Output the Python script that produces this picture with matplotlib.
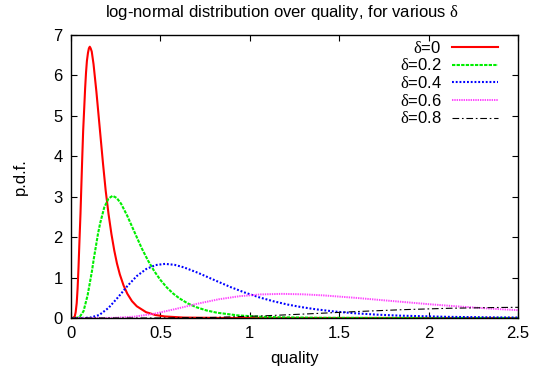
import matplotlib
matplotlib.use("Agg")
import matplotlib.pyplot as plt

plt.rcParams['font.family'] = ['Liberation Sans', 'DejaVu Sans']
plt.rcParams['mathtext.fontset'] = 'custom'
plt.rcParams['mathtext.rm'] = 'Liberation Serif'
plt.rcParams['mathtext.it'] = 'Liberation Serif:italic'

# ---- data ----
red_x = [0, 0.011, 0.021, 0.026, 0.032, 0.037, 0.042, 0.047, 0.053, 0.058, 0.063, 0.068,
         0.074, 0.079, 0.084, 0.089, 0.095, 0.100, 0.105, 0.110, 0.116, 0.126, 0.142,
         0.158, 0.179, 0.194, 0.21, 0.226, 0.242, 0.257, 0.273, 0.294, 0.315, 0.341,
         0.368, 0.42, 0.473, 0.525, 0.63, 0.84, 1.2, 2.5]
red_y = [0, 0.0, 0.04, 0.14, 0.37, 0.74, 1.25, 1.87, 2.57, 3.28, 3.98, 4.63,
         5.20, 5.68, 6.07, 6.36, 6.56, 6.67, 6.71, 6.67, 6.59, 6.28, 5.60,
         4.83, 3.82, 3.15, 2.57, 2.08, 1.67, 1.35, 1.08, 0.805, 0.60, 0.417,
         0.29, 0.144, 0.073, 0.038, 0.011, 0.001, 0.0, 0.0]

green_x = [0, 0.023, 0.047, 0.070, 0.093, 0.117, 0.128, 0.140, 0.151, 0.163, 0.186, 0.210,
           0.233, 0.256, 0.280, 0.315, 0.350, 0.396, 0.431, 0.466, 0.501, 0.536, 0.571,
           0.606, 0.652, 0.699, 0.757, 0.816, 0.932, 1.049, 1.165, 1.398, 1.864, 2.5]
green_y = [0, 0.0, 0.017, 0.167, 0.564, 1.156, 1.479, 1.793, 2.085, 2.343, 2.736, 2.956,
           3.022, 2.968, 2.828, 2.524, 2.175, 1.721, 1.418, 1.156, 0.936, 0.755, 0.606,
           0.487, 0.363, 0.270, 0.188, 0.131, 0.065, 0.033, 0.017, 0.005, 0.0004, 0.0]

blue_x = [0, 0.053, 0.105, 0.158, 0.210, 0.263, 0.316, 0.368, 0.421, 0.473, 0.526, 0.579,
          0.631, 0.710, 0.789, 0.894, 0.973, 1.052, 1.131, 1.210, 1.289, 1.368, 1.473,
          1.578, 1.710, 1.841, 2.104, 2.367, 2.5]
blue_y = [0, 0.0, 0.0075, 0.074, 0.250, 0.512, 0.794, 1.038, 1.212, 1.309, 1.339, 1.315,
          1.253, 1.118, 0.963, 0.762, 0.628, 0.512, 0.415, 0.334, 0.269, 0.216, 0.161,
          0.120, 0.083, 0.058, 0.029, 0.0145, 0.011]

magenta_x = [0, 0.118, 0.236, 0.354, 0.472, 0.590, 0.708, 0.826, 0.944, 1.062, 1.180,
             1.298, 1.416, 1.593, 1.770, 2.006, 2.183, 2.360, 2.5]
magenta_y = [0, 0.0, 0.0034, 0.033, 0.111, 0.228, 0.354, 0.463, 0.540, 0.584, 0.597,
             0.586, 0.558, 0.498, 0.430, 0.340, 0.280, 0.228, 0.193]

black_x = [0, 0.265, 0.530, 0.795, 1.060, 1.325, 1.590, 1.855, 2.120, 2.385, 2.5]
black_y = [0, 0.0, 0.0015, 0.0146, 0.050, 0.102, 0.158, 0.206, 0.241, 0.260, 0.264]

labels = [r'$\mathrm{\delta}$=0', r'$\mathrm{\delta}$=0.2', r'$\mathrm{\delta}$=0.4',
          r'$\mathrm{\delta}$=0.6', r'$\mathrm{\delta}$=0.8']
x_ticks = [0, 0.5, 1, 1.5, 2, 2.5]
x_tick_labels = ['0', '0.5', '1', '1.5', '2', '2.5']
y_ticks = [0, 1, 2, 3, 4, 5, 6, 7]

FS = 12

# ---- figure ----
fig = plt.figure(figsize=(5.46, 3.75), dpi=100)
ax = fig.add_axes([71/546, 57/375, 447/546, 283/375])

ax.plot(red_x, red_y, color='#ff0000', lw=1.5, ls='-', label=labels[0])
ax.plot(green_x, green_y, color='#00ee00', lw=1.5, ls=(0, (1.6, 0.6)), label=labels[1])
ax.plot(blue_x, blue_y, color='#0000ff', lw=1.5, ls=(0, (0.9, 0.9)), label=labels[2])
ax.plot(magenta_x, magenta_y, color='#ff44ff', lw=1.4, ls=(0, (0.7, 0.5)), label=labels[3])
ax.plot(black_x, black_y, color='#000000', lw=0.8, ls=(0, (6, 2.5, 1.5, 2.5)), label=labels[4])

ax.set_xlim(0, 2.5)
ax.set_ylim(0, 7)
ax.set_xticks(x_ticks)
ax.set_xticklabels(x_tick_labels)
ax.set_yticks(y_ticks)
ax.tick_params(direction='in', length=4.5, width=0.8, top=True, right=True,
               labelsize=FS, pad=6, colors='black')
for s in ax.spines.values():
    s.set_linewidth(1.0)
    s.set_color('black')

ax.set_xlabel('quality', fontsize=FS, labelpad=7)
ax.set_ylabel('p.d.f.', fontsize=FS, labelpad=18)
fig.text(282/546, 1 - 12/375, r'log-normal distribution over quality, for various $\mathrm{\delta}$',
         ha='center', va='center', fontsize=FS)

leg = ax.legend(loc='upper right', bbox_to_anchor=(0.956, 0.983), frameon=False,
                markerfirst=False, fontsize=FS, handlelength=2.75, handletextpad=0.65,
                labelspacing=0.1, borderpad=0, borderaxespad=0)

fig.savefig('out.png', dpi=100)
